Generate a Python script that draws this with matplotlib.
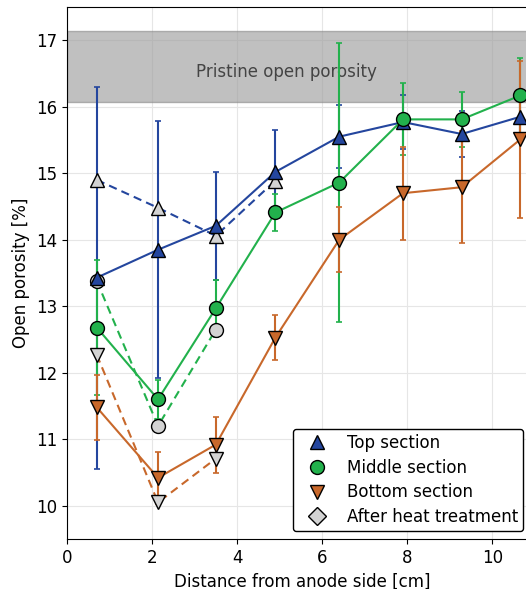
import matplotlib
matplotlib.use("Agg")
import matplotlib.pyplot as plt
from matplotlib.lines import Line2D

# positions along the sample [cm]
x = [0.70, 2.14, 3.50, 4.90, 6.40, 7.90, 9.28, 10.66]

top = [13.43, 13.85, 14.21, 15.02, 15.55, 15.77, 15.59, 15.85]
top_err = [2.87, 1.93, 0.81, 0.63, 0.47, 0.41, 0.34, 0.30]

middle = [12.68, 11.60, 12.97, 14.41, 14.86, 15.81, 15.81, 16.17]
middle_err = [1.02, 0.29, 0.43, 0.28, 2.10, 0.54, 0.41, 0.56]

bottom = [11.48, 10.42, 10.92, 12.53, 14.00, 14.70, 14.79, 15.51]
bottom_err = [0.49, 0.39, 0.42, 0.34, 0.49, 0.70, 0.84, 1.18]

# after heat treatment
x_top_ht = [0.70, 2.14, 3.50, 4.90]
top_ht = [14.90, 14.48, 14.06, 14.89]
x_mid_ht = [0.70, 2.14, 3.50]
middle_ht = [13.38, 11.20, 12.65]
x_bot_ht = [0.70, 2.14, 3.50]
bottom_ht = [12.27, 10.05, 10.71]

pristine = (16.07, 17.14)

c_top = "#24469e"
c_mid = "#22b14c"
c_bot = "#c8682b"
c_ht = "#d3d3d3"

fig = plt.figure(figsize=(5.26, 5.89), dpi=100)
ax = fig.add_axes([67 / 526, 50 / 589, 470 / 526, 532 / 589])

ax.axhspan(pristine[0], pristine[1], facecolor="#9a9a9a", alpha=0.62,
           edgecolor="#8a8a8a", linewidth=1.0, zorder=1)
ax.text(5.15, 16.52, "Pristine open porosity", ha="center", va="center",
        fontsize=12, color="#444444", zorder=2)

series = [
    (top, top_err, c_top, "^"),
    (middle, middle_err, c_mid, "o"),
    (bottom, bottom_err, c_bot, "v"),
]
for y, e, c, m in series:
    ax.errorbar(x, y, yerr=e, color=c, lw=1.5, elinewidth=1.5,
                capsize=2.5, capthick=1.2, zorder=3)

heat = [
    (x_top_ht, top_ht, c_top, "^"),
    (x_mid_ht, middle_ht, c_mid, "o"),
    (x_bot_ht, bottom_ht, c_bot, "v"),
]
for xx, y, c, m in heat:
    ax.plot(xx, y, color=c, ls="--", lw=1.5, dashes=(4, 2.5), zorder=4)
    ax.plot(xx, y, ls="none", marker=m, ms=10, mfc=c_ht, mec="black",
            mew=1.0, zorder=5)

for y, e, c, m in series:
    ax.plot(x, y, ls="none", marker=m, ms=10, mfc=c, mec="black",
            mew=1.0, zorder=6)

ax.set_xlim(0, 11.05)
ax.set_ylim(9.5, 17.5)
ax.set_xticks([0, 2, 4, 6, 8, 10])
ax.set_yticks(range(10, 18))
ax.tick_params(labelsize=12)
ax.grid(True, color="#e6e6e6", lw=0.8, zorder=0)
ax.set_axisbelow(True)
ax.set_xlabel("Distance from anode side [cm]", fontsize=12)
ax.set_ylabel("Open porosity [%]", fontsize=12)

handles = [
    Line2D([], [], ls="none", marker="^", ms=10, mfc=c_top, mec="black"),
    Line2D([], [], ls="none", marker="o", ms=10, mfc=c_mid, mec="black"),
    Line2D([], [], ls="none", marker="v", ms=10, mfc=c_bot, mec="black"),
    Line2D([], [], ls="none", marker="D", ms=9, mfc=c_ht, mec="black"),
]
labels = ["Top section", "Middle section", "Bottom section",
          "After heat treatment"]
leg = ax.legend(handles, labels, loc="lower left", fontsize=12,
                bbox_to_anchor=(293 / 526, 58 / 589),
                bbox_transform=fig.transFigure, borderaxespad=0,
                framealpha=1, edgecolor="black", fancybox=True,
                borderpad=0.3, labelspacing=0.4, handlelength=2.3,
                handletextpad=0.65)
leg.set_zorder(10)

fig.savefig("out.png", dpi=100)
